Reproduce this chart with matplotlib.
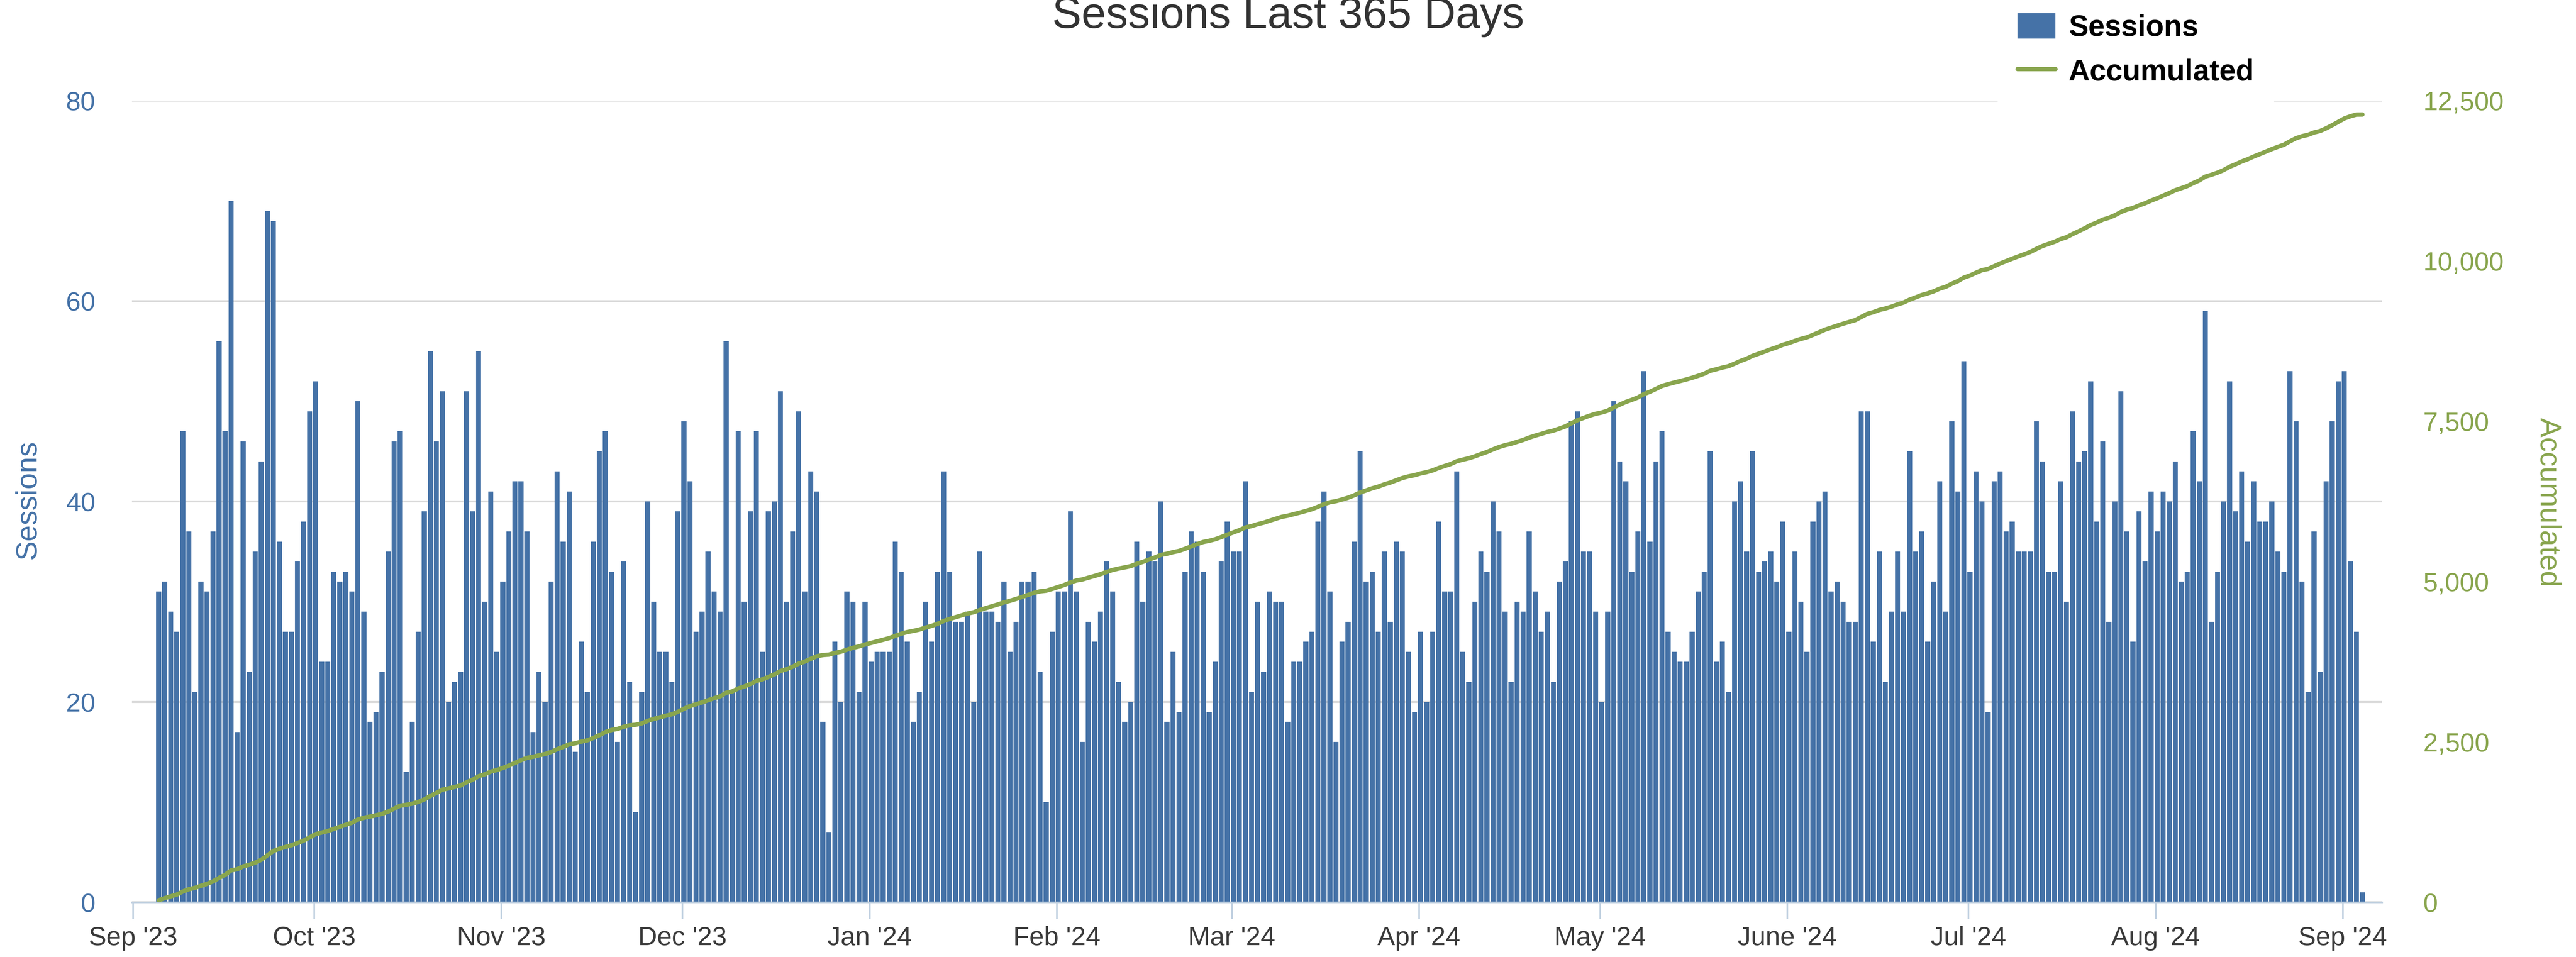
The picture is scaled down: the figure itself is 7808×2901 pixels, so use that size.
import numpy as np
import pandas as pd
import matplotlib
matplotlib.use('Agg')
import matplotlib.pyplot as plt
from matplotlib.ticker import FuncFormatter

# daily sessions (Sep 5 2023 .. Sep 4 2024)
sessions = [
    31, 32, 29, 27, 47, 37, 21, 32, 31, 37, 56, 47, 70, 17, 46, 23, 35, 44, 69, 68,
    36, 27, 27, 34, 38, 49, 52, 24, 24, 33, 32,
    33, 31, 50, 29, 18, 19, 23, 35, 46, 47, 13, 18, 27, 39, 55, 46, 51, 20, 22, 23,
    51, 39, 55, 30, 41, 25, 32, 37, 42, 42, 37,
    17, 23, 20, 32, 43, 36, 41, 15, 26, 21, 36, 45, 47, 33, 16, 34, 22, 9, 21, 40,
    30, 25, 25, 22, 39, 48, 42, 27, 29, 35,
    31, 29, 56, 21, 47, 30, 39, 47, 25, 39, 40, 51, 30, 37, 49, 31, 43, 41, 18, 7,
    26, 20, 31, 30, 21, 30, 24, 25, 25, 25, 36,
    33, 26, 18, 21, 30, 26, 33, 43, 33, 28, 28, 29, 20, 35, 29, 29, 28, 32, 25, 28,
    32, 32, 33, 23, 10, 27, 31, 31, 39, 31,
    16, 28, 26, 29, 34, 31, 22, 18, 20, 36, 30, 35, 34, 40, 18, 25, 19, 33, 37, 36,
    33, 19, 24, 34, 38, 35, 35, 42, 21, 30, 23,
    31, 30, 30, 18, 24, 24, 26, 27, 38, 41, 31, 16, 26, 28, 36, 45, 32, 33, 27, 35,
    28, 36, 35, 25, 19, 27, 20, 27, 38, 31,
    31, 43, 25, 22, 30, 35, 33, 40, 37, 29, 22, 30, 29, 37, 31, 27, 29, 22, 32, 34,
    48, 49, 35, 35, 29, 20, 29, 50, 44, 42, 33,
    37, 53, 36, 44, 47, 27, 25, 24, 24, 27, 31, 33, 45, 24, 26, 21, 40, 42, 35, 45,
    33, 34, 35, 32, 38, 27, 35, 30, 25, 38, 40,
    41, 31, 32, 30, 28, 28, 49, 49, 26, 35, 22, 29, 35, 29, 45, 35, 37, 26, 32, 42,
    29, 48, 41, 54, 33, 43, 40, 19, 42, 43,
    37, 38, 35, 35, 35, 48, 44, 33, 33, 42, 30, 49, 44, 45, 52, 38, 46, 28, 40, 51,
    37, 26, 39, 34, 41, 37, 41, 40, 44, 32, 33,
    47, 42, 59, 28, 33, 40, 52, 39, 43, 36, 42, 38, 38, 40, 35, 33, 53, 48, 32, 21,
    37, 23, 42, 48, 52, 53, 34, 27, 1,
]
days = pd.date_range('2023-09-05', periods=len(sessions), freq='D') + pd.Timedelta(hours=6)
accumulated = np.cumsum(sessions)

month_ticks = pd.date_range('2023-09-01', '2024-09-01', freq='MS')
month_labels = ["Sep '23", "Oct '23", "Nov '23", "Dec '23", "Jan '24", "Feb '24", "Mar '24",
                "Apr '24", "May '24", "June '24", "Jul '24", "Aug '24", "Sep '24"]
left_ticks = [0, 20, 40, 60, 80]
right_ticks = [0, 2500, 5000, 7500, 10000, 12500]

BLUE = '#4572A7'
GREEN = '#89A54E'
W, H = 7808, 2901

plt.rcParams['font.family'] = ['Liberation Sans', 'DejaVu Sans']

fig = plt.figure(figsize=(W / 100, H / 100), dpi=100)
ax = fig.add_axes([400 / W, 1 - 2735 / H, (7220 - 400) / W, (2735 - 305) / H])
ax2 = ax.twinx()

bars = ax.bar(days, sessions, width=0.84, color=BLUE, zorder=2)
line, = ax2.plot(days, accumulated, color=GREEN, lw=9.5,
                 solid_joinstyle='round', solid_capstyle='round', zorder=3)

ax.set_xlim(pd.Timestamp('2023-08-31 20:00'), pd.Timestamp('2024-09-07 12:00'))
ax.set_ylim(0, 80)
ax2.set_ylim(0, 12500)

ax.set_axisbelow(True)
ax.yaxis.grid(True, color='#D8D8D8', linewidth=4.3)
ax.set_yticks(left_ticks)
ax2.set_yticks(right_ticks)
ax2.yaxis.set_major_formatter(FuncFormatter(lambda v, p: f'{int(v):,}'))
ax.set_xticks(month_ticks)
ax.set_xticklabels(month_labels)

for a in (ax, ax2):
    for s in ('left', 'right', 'top'):
        a.spines[s].set_visible(False)
ax2.spines['bottom'].set_visible(False)
ax.spines['bottom'].set_color('#C0D0E0')
ax.spines['bottom'].set_linewidth(3.6)

ax.tick_params(axis='y', length=0, pad=80, labelsize=57.6, labelcolor=BLUE)
ax2.tick_params(axis='y', length=0, pad=90, labelsize=57.6, labelcolor=GREEN)
ax.tick_params(axis='x', length=36, width=3.6, color='#C0D0E0', pad=16,
               labelsize=57.6, labelcolor='#3a3a3a')

fig.text(0.5, 1 - 85 / H, 'Sessions Last 365 Days', ha='center', va='baseline',
         fontsize=96, color='#333333')
fig.text(85 / W, 0.478, 'Sessions', rotation=90, ha='center', va='center',
         fontsize=64, color=BLUE)
fig.text(7723 / W, 0.475, 'Accumulated', rotation=270, ha='center', va='center',
         fontsize=64, color=GREEN)

fig.legend([bars, line], ['Sessions', 'Accumulated'], loc='upper left',
           bbox_to_anchor=(1216 / 1568, 1 + 20 / H), frameon=True, facecolor='white',
           edgecolor='none', framealpha=1, fancybox=False,
           prop={'weight': 'bold', 'size': 64.5}, handlelength=1.28, handleheight=0.94,
           handletextpad=0.45, labelspacing=0.52, borderpad=0.67, borderaxespad=0)

fig.savefig('out.png', dpi=100)
